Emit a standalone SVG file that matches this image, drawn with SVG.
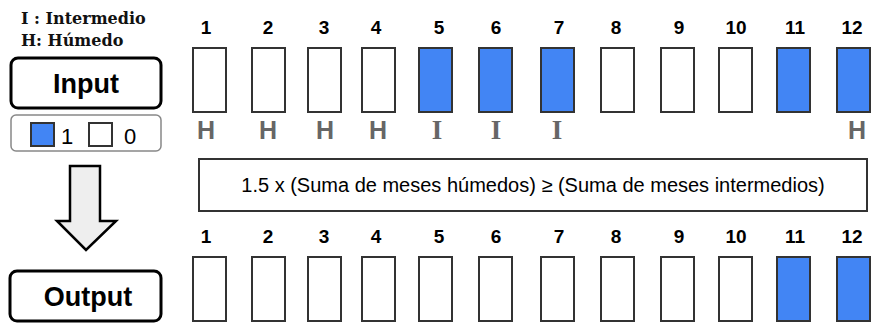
<svg xmlns="http://www.w3.org/2000/svg" width="875" height="327" viewBox="0 0 875 327">
  <style>
    .bg { fill: #ffffff; }
    .cell { fill: #ffffff; stroke: #333333; stroke-width: 2; }
    .cell.on { fill: #4285f4; }
    .num { font-family: "Liberation Sans", Arial, sans-serif; font-weight: bold; font-size: 19px; fill: #000000; text-anchor: middle; }
    .tagH { font-family: "Liberation Sans", Arial, sans-serif; font-weight: bold; font-size: 25px; fill: #666666; text-anchor: middle; }
    .tagI { font-family: "Liberation Serif", "Times New Roman", serif; font-weight: bold; font-size: 27px; fill: #666666; text-anchor: middle; }
    .key { font-family: "DejaVu Serif", "Liberation Serif", serif; font-weight: bold; font-size: 16px; fill: #111111; }
    .title { font-family: "Liberation Sans", Arial, sans-serif; font-weight: bold; font-size: 27px; fill: #000000; text-anchor: middle; }
    .label { fill: #ffffff; stroke: #000000; stroke-width: 3; }
    .legend { fill: #ffffff; stroke: #888888; stroke-width: 1.5; }
    .legtxt { font-family: "Liberation Sans", Arial, sans-serif; font-size: 22px; fill: #000000; }
    .rule { fill: #ffffff; stroke: #333333; stroke-width: 2; }
    .ruletxt { font-family: "Liberation Sans", Arial, sans-serif; font-size: 20px; fill: #000000; text-anchor: middle; }
  </style>

  <rect class="bg" x="0" y="0" width="875" height="327"/>

  <!-- key for month tags -->
  <g id="key">
    <text class="key" x="21" y="24">I : Intermedio</text>
    <text class="key" x="21" y="46">H: Húmedo</text>
  </g>

  <!-- Input label and legend -->
  <g id="input-label">
    <rect class="label" x="11" y="58" width="150" height="50" rx="7"/>
    <text class="title" x="86" y="93">Input</text>
  </g>
  <g id="legend">
    <rect class="legend" x="11" y="115" width="150" height="36" rx="5"/>
    <rect class="cell on" x="31" y="123" width="23" height="23"/>
    <text class="legtxt" x="61" y="144">1</text>
    <rect class="cell" x="89" y="123" width="23" height="23"/>
    <text class="legtxt" x="124" y="144">0</text>
  </g>

  <!-- input months -->
  <g id="input-months">
    <g class="num">
      <text x="206" y="34">1</text>
      <text x="268" y="34">2</text>
      <text x="324" y="34">3</text>
      <text x="376" y="34">4</text>
      <text x="439" y="34">5</text>
      <text x="496" y="34">6</text>
      <text x="559" y="34">7</text>
      <text x="616" y="34">8</text>
      <text x="679" y="34">9</text>
      <text x="736" y="34">10</text>
      <text x="795" y="34">11</text>
      <text x="852" y="34">12</text>
    </g>
    <rect class="cell" x="193" y="48" width="33" height="64"/>
    <rect class="cell" x="252" y="48" width="33" height="64"/>
    <rect class="cell" x="308" y="48" width="33" height="64"/>
    <rect class="cell" x="362" y="48" width="33" height="64"/>
    <rect class="cell on" x="419" y="48" width="33" height="64"/>
    <rect class="cell on" x="479" y="48" width="33" height="64"/>
    <rect class="cell on" x="541" y="48" width="33" height="64"/>
    <rect class="cell" x="601" y="48" width="33" height="64"/>
    <rect class="cell" x="661" y="48" width="33" height="64"/>
    <rect class="cell" x="719" y="48" width="33" height="64"/>
    <rect class="cell on" x="777" y="48" width="33" height="64"/>
    <rect class="cell on" x="837" y="48" width="33" height="64"/>
    <text class="tagH" x="206" y="139">H</text>
    <text class="tagH" x="268" y="139">H</text>
    <text class="tagH" x="325" y="139">H</text>
    <text class="tagH" x="378" y="139">H</text>
    <text class="tagI" x="437" y="139">I</text>
    <text class="tagI" x="496" y="139">I</text>
    <text class="tagI" x="557" y="139">I</text>
    <text class="tagH" x="857" y="139">H</text>
  </g>

  <!-- rule -->
  <g id="rule">
    <rect class="rule" x="199" y="159" width="668" height="52"/>
    <text class="ruletxt" x="533" y="192">1.5 x (Suma de meses húmedos) ≥ (Suma de meses intermedios)</text>
  </g>

  <!-- down arrow -->
  <g id="connectors">
    <path d="M70,166 H100 V221 H116 L86,250 L57,221 H70 Z" fill="#eeeeee" stroke="#000000" stroke-width="2.5" stroke-linejoin="miter"/>
  </g>

  <!-- Output label -->
  <g id="output-label">
    <rect class="label" x="10" y="271" width="151" height="50" rx="7"/>
    <text class="title" x="88" y="306">Output</text>
  </g>

  <!-- output months -->
  <g id="output-months">
    <g class="num">
      <text x="206" y="243">1</text>
      <text x="268" y="243">2</text>
      <text x="324" y="243">3</text>
      <text x="376" y="243">4</text>
      <text x="439" y="243">5</text>
      <text x="496" y="243">6</text>
      <text x="559" y="243">7</text>
      <text x="616" y="243">8</text>
      <text x="679" y="243">9</text>
      <text x="736" y="243">10</text>
      <text x="795" y="243">11</text>
      <text x="852" y="243">12</text>
    </g>
    <rect class="cell" x="193" y="257" width="33" height="64"/>
    <rect class="cell" x="252" y="257" width="33" height="64"/>
    <rect class="cell" x="308" y="257" width="33" height="64"/>
    <rect class="cell" x="362" y="257" width="33" height="64"/>
    <rect class="cell" x="419" y="257" width="33" height="64"/>
    <rect class="cell" x="479" y="257" width="33" height="64"/>
    <rect class="cell" x="541" y="257" width="33" height="64"/>
    <rect class="cell" x="601" y="257" width="33" height="64"/>
    <rect class="cell" x="661" y="257" width="33" height="64"/>
    <rect class="cell" x="719" y="257" width="33" height="64"/>
    <rect class="cell on" x="777" y="257" width="33" height="64"/>
    <rect class="cell on" x="837" y="257" width="33" height="64"/>
  </g>
</svg>
